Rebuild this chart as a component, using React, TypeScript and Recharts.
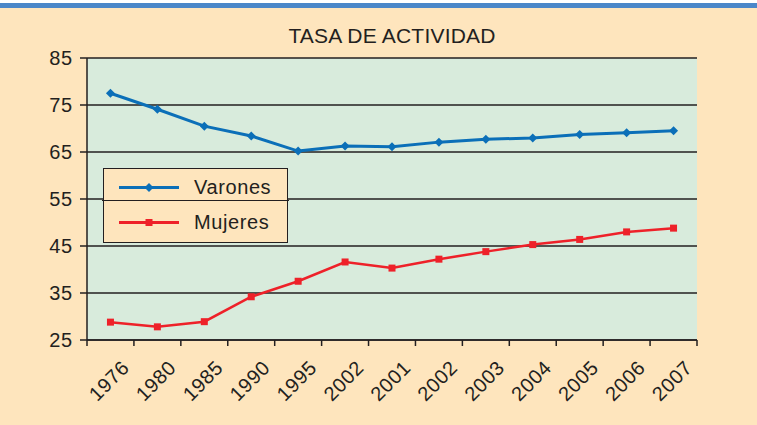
import React from 'react'
import { LineChart, Line, XAxis, YAxis, CartesianGrid, Legend } from 'recharts'

const years = ['1976', '1980', '1985', '1990', '1995', '2002', '2001', '2002', '2003', '2004', '2005', '2006', '2007']
const varones = [77.5, 74.1, 70.5, 68.4, 65.2, 66.3, 66.1, 67.1, 67.7, 68.0, 68.7, 69.1, 69.5]
const mujeres = [28.8, 27.8, 28.9, 34.2, 37.5, 41.6, 40.3, 42.2, 43.8, 45.3, 46.4, 48.0, 48.8]
const yTicks = [25, 35, 45, 55, 65, 75, 85]
const title = 'TASA DE ACTIVIDAD'

const data = years.map((year, i) => ({ idx: i, year, varones: varones[i], mujeres: mujeres[i] }))

const BLUE = '#0B6FB8'
const RED = '#EE2129'
const INK = '#231F20'
const BG = '#FEE5BD'
const PLOT = '#D8EBDC'
const FONT = '"Liberation Sans", Arial, Helvetica, sans-serif'

function XTick(props: any) {
  const { x, y, payload, index } = props
  const off = payload.offset || 23.46
  const last = index === years.length - 1
  const tx = x + 20
  const ty = y + 29
  return (
    <g>
      <line x1={x - off} y1={y} x2={x - off} y2={y + 6} stroke={INK} strokeWidth={1.5} />
      {last && <line x1={x + off} y1={y} x2={x + off} y2={y + 6} stroke={INK} strokeWidth={1.5} />}
      <text x={tx} y={ty} textAnchor="end" fontSize={20} letterSpacing={0.6} fill={INK} fontFamily={FONT}
        transform={`rotate(-45, ${tx}, ${ty})`}>
        {years[payload.value]}
      </text>
    </g>
  )
}

function Diamond(props: any) {
  const { cx, cy } = props
  if (cx == null || cy == null) return null
  return <polygon points={`${cx},${cy - 4.5} ${cx + 4.5},${cy} ${cx},${cy + 4.5} ${cx - 4.5},${cy}`} fill={BLUE} />
}

function Square(props: any) {
  const { cx, cy } = props
  if (cx == null || cy == null) return null
  return <rect x={cx - 3.5} y={cy - 3.5} width={7} height={7} fill={RED} />
}

function LegendBox() {
  const rows = [
    { name: 'Varones', color: BLUE, marker: 'diamond' },
    { name: 'Mujeres', color: RED, marker: 'square' },
  ]
  return (
    <div style={{ position: 'relative', width: 185, height: 75, boxSizing: 'border-box', border: `1.5px solid ${INK}`, background: BG, fontFamily: FONT }}>
      <div style={{ position: 'absolute', left: -2, right: -2, top: 30.5, height: 1.5, background: INK }} />
      {rows.map((r, i) => (
        <div key={r.name} style={{ position: 'absolute', left: 0, top: 1 + i * 35, height: 35, display: 'flex', alignItems: 'center' }}>
          <svg width={90} height={35} style={{ display: 'block' }}>
            <line x1={15} y1={17.5} x2={75} y2={17.5} stroke={r.color} strokeWidth={3} />
            {r.marker === 'diamond'
              ? <polygon points="45,13 49.5,17.5 45,22 40.5,17.5" fill={r.color} />
              : <rect x={41.5} y={14} width={7} height={7} fill={r.color} />}
          </svg>
          <span style={{ fontSize: 20, letterSpacing: 0.6, color: INK, lineHeight: '35px' }}>{r.name}</span>
        </div>
      ))}
    </div>
  )
}

export default function App() {
  return (
    <div style={{ position: 'absolute', left: 0, top: 0, width: 757, height: 425, background: BG, overflow: 'hidden' }}>
      <div style={{ position: 'absolute', left: 0, top: 0, width: 757, height: 3, background: '#fff' }} />
      <div style={{ position: 'absolute', left: 0, top: 3, width: 757, height: 4.5, background: '#4A87C9' }} />
      <div style={{ position: 'absolute', left: 87, top: 25, width: 610, textAlign: 'center', fontFamily: FONT, fontSize: 21, letterSpacing: 0.2, lineHeight: '21px', color: INK }}>
        {title}
      </div>
      <LineChart width={757} height={425} data={data} margin={{ top: 58, right: 60, left: 0, bottom: 0 }}>
        <CartesianGrid vertical={false} fill={PLOT} fillOpacity={1} stroke={INK} strokeWidth={1.5} />
        <XAxis dataKey="idx" type="category" scale="band" height={85} tick={<XTick />} tickLine={false} tickSize={0} tickMargin={0}
          axisLine={{ stroke: INK, strokeWidth: 1.5 }} interval={0} />
        <YAxis domain={[25, 85]} ticks={yTicks} width={87} tickSize={7} tickMargin={7}
          tick={{ fontSize: 20, letterSpacing: 0.8, fill: INK, fontFamily: FONT }}
          tickLine={{ stroke: INK, strokeWidth: 1.5 }} axisLine={{ stroke: INK, strokeWidth: 1.5 }} />
        <YAxis yAxisId="r" orientation="right" domain={[25, 85]} width={0} tick={false} tickLine={false}
          axisLine={{ stroke: INK, strokeWidth: 2 }} />
        <Legend layout="vertical" align="center" verticalAlign="middle" content={() => <LegendBox />}
          wrapperStyle={{ position: 'absolute', left: 103, top: 168, width: 185, height: 75 }} />
        <Line type="linear" dataKey="varones" name="Varones" stroke={BLUE} strokeWidth={3} dot={<Diamond />} activeDot={false} isAnimationActive={false} />
        <Line type="linear" dataKey="mujeres" name="Mujeres" stroke={RED} strokeWidth={2.5} dot={<Square />} activeDot={false} isAnimationActive={false} />
      </LineChart>
    </div>
  )
}
